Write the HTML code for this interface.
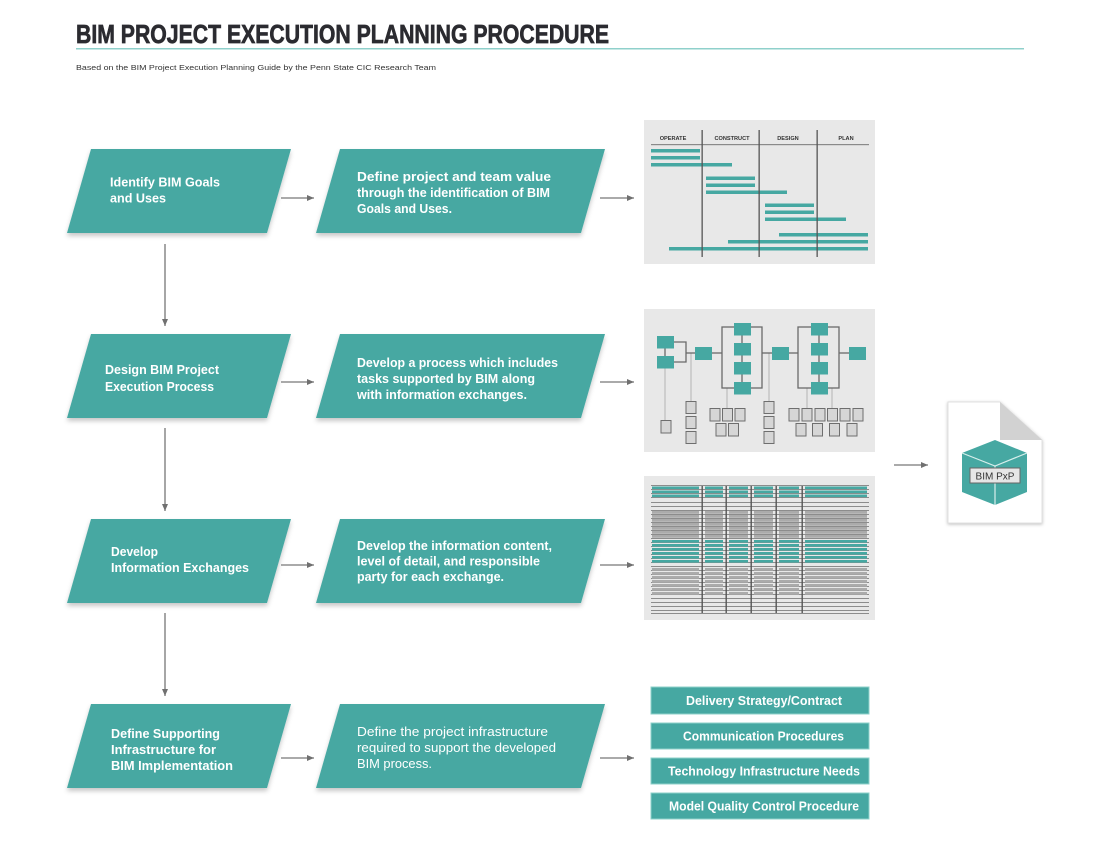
<!DOCTYPE html>
<html><head><meta charset="utf-8"><style>
html,body{margin:0;padding:0;background:#fff;}
svg{display:block;}
text{font-family:"Liberation Sans",Arial,sans-serif;}
</style></head><body>
<svg width="1116" height="857" viewBox="0 0 1116 857" xmlns="http://www.w3.org/2000/svg">
<defs>
<filter id="sh" x="-10%" y="-10%" width="120%" height="140%">
<feDropShadow dx="0" dy="3" stdDeviation="2.5" flood-color="#000" flood-opacity="0.22"/>
</filter>
<filter id="sh2" x="-20%" y="-20%" width="140%" height="140%">
<feDropShadow dx="0" dy="1" stdDeviation="1.5" flood-color="#000" flood-opacity="0.25"/>
</filter>
<marker id="ah" markerWidth="8" markerHeight="8" refX="7" refY="4" orient="auto" markerUnits="userSpaceOnUse">
<path d="M0,1 L7,4 L0,7 Z" fill="#707070"/>
</marker>
</defs>
<rect width="1116" height="857" fill="#fff"/>

<!-- Header -->
<text x="76" y="43" font-size="26" font-weight="bold" fill="#2b2b30" stroke="#2b2b30" stroke-width="0.7" textLength="533" lengthAdjust="spacingAndGlyphs">BIM PROJECT EXECUTION PLANNING PROCEDURE</text>
<rect x="76" y="48" width="948" height="1.5" fill="#8fd0cb"/>
<text x="76" y="70" font-size="7.5" fill="#333" textLength="360" lengthAdjust="spacingAndGlyphs">Based on the BIM Project Execution Planning Guide by the Penn State CIC Research Team</text>

<!-- Parallelograms -->
<g fill="#46a8a2" filter="url(#sh)">
<polygon points="91,149 291,149 267,233 67,233"/>
<polygon points="340,149 605,149 581,233 316,233"/>
<polygon points="91,334 291,334 267,418 67,418"/>
<polygon points="340,334 605,334 581,418 316,418"/>
<polygon points="91,519 291,519 267,603 67,603"/>
<polygon points="340,519 605,519 581,603 316,603"/>
<polygon points="91,704 291,704 267,788 67,788"/>
<polygon points="340,704 605,704 581,788 316,788"/>
</g>

<g fill="#fff" font-size="13" font-weight="bold">
<text x="110" y="186.5" textLength="110" lengthAdjust="spacingAndGlyphs">Identify BIM Goals</text>
<text x="110" y="202.5" textLength="56" lengthAdjust="spacingAndGlyphs">and Uses</text>
<text x="357" y="181" textLength="194" lengthAdjust="spacingAndGlyphs">Define project and team value</text>
<text x="357" y="197" textLength="193" lengthAdjust="spacingAndGlyphs">through the identification of BIM</text>
<text x="357" y="213" textLength="95" lengthAdjust="spacingAndGlyphs">Goals and Uses.</text>

<text x="105" y="374" textLength="114" lengthAdjust="spacingAndGlyphs">Design BIM Project</text>
<text x="105" y="391" textLength="109" lengthAdjust="spacingAndGlyphs">Execution Process</text>
<text x="357" y="367" textLength="201" lengthAdjust="spacingAndGlyphs">Develop a process which includes</text>
<text x="357" y="383" textLength="178" lengthAdjust="spacingAndGlyphs">tasks supported by BIM along</text>
<text x="357" y="399" textLength="170" lengthAdjust="spacingAndGlyphs">with information exchanges.</text>

<text x="111" y="556" textLength="47" lengthAdjust="spacingAndGlyphs">Develop</text>
<text x="111" y="572" textLength="138" lengthAdjust="spacingAndGlyphs">Information Exchanges</text>
<text x="357" y="550" textLength="195" lengthAdjust="spacingAndGlyphs">Develop the information content,</text>
<text x="357" y="565.5" textLength="183" lengthAdjust="spacingAndGlyphs">level of detail, and responsible</text>
<text x="357" y="581" textLength="147" lengthAdjust="spacingAndGlyphs">party for each exchange.</text>

<text x="111" y="738" textLength="109" lengthAdjust="spacingAndGlyphs">Define Supporting</text>
<text x="111" y="754" textLength="105" lengthAdjust="spacingAndGlyphs">Infrastructure for</text>
<text x="111" y="770" textLength="122" lengthAdjust="spacingAndGlyphs">BIM Implementation</text>
</g>
<g fill="#fff" font-size="13">
<text x="357" y="736" textLength="191" lengthAdjust="spacingAndGlyphs">Define the project infrastructure</text>
<text x="357" y="752" textLength="199" lengthAdjust="spacingAndGlyphs">required to support the developed</text>
<text x="357" y="768" textLength="75" lengthAdjust="spacingAndGlyphs">BIM process.</text>
</g>

<!-- Arrows -->
<g stroke="#777" stroke-width="1.3" fill="none" marker-end="url(#ah)">
<line x1="281" y1="198" x2="314" y2="198"/>
<line x1="600" y1="198" x2="634" y2="198"/>
<line x1="281" y1="382" x2="314" y2="382"/>
<line x1="600" y1="382" x2="634" y2="382"/>
<line x1="281" y1="565" x2="314" y2="565"/>
<line x1="600" y1="565" x2="634" y2="565"/>
<line x1="281" y1="758" x2="314" y2="758"/>
<line x1="600" y1="758" x2="634" y2="758"/>
<line x1="894" y1="465" x2="928" y2="465"/>
<line x1="165" y1="244" x2="165" y2="326"/>
<line x1="165" y1="428" x2="165" y2="511"/>
<line x1="165" y1="613" x2="165" y2="696"/>
</g>

<!-- Gantt panel -->
<rect x="644" y="120" width="231" height="144" fill="#e8e8e8"/>
<g font-size="5.6" font-weight="bold" fill="#333" text-anchor="middle">
<text x="673" y="140">OPERATE</text>
<text x="732" y="140">CONSTRUCT</text>
<text x="788" y="140">DESIGN</text>
<text x="846" y="140">PLAN</text>
</g>
<rect x="651" y="144" width="218" height="1.2" fill="#8a8a8a"/>
<g fill="#46a8a2">
<rect x="651" y="149" width="49" height="3.5"/>
<rect x="651" y="156" width="49" height="3.5"/>
<rect x="651" y="163" width="81" height="3.5"/>
<rect x="706" y="176.5" width="49" height="3.5"/>
<rect x="706" y="183.5" width="49" height="3.5"/>
<rect x="706" y="190.5" width="81" height="3.5"/>
<rect x="765" y="203.5" width="49" height="3.5"/>
<rect x="765" y="210.5" width="49" height="3.5"/>
<rect x="765" y="217.5" width="81" height="3.5"/>
<rect x="779" y="233" width="89" height="3.5"/>
<rect x="728" y="240" width="140" height="3.5"/>
<rect x="669" y="247" width="199" height="3.5"/>
</g>
<g fill="#555">
<rect x="701.5" y="130" width="1.3" height="127"/>
<rect x="758.5" y="130" width="1.3" height="127"/>
<rect x="816.5" y="130" width="1.3" height="127"/>
</g>

<!-- Process panel -->
<rect x="644" y="309" width="231" height="143" fill="#e8e8e8"/>
<g stroke="#bdbdbd" stroke-width="1.2" fill="none">
<line x1="665" y1="368" x2="665" y2="420"/>
<line x1="691" y1="353" x2="691" y2="401"/>
<line x1="727" y1="388" x2="727" y2="408"/>
<line x1="769" y1="353" x2="769" y2="401"/>
<line x1="807" y1="388" x2="807" y2="408"/>
<line x1="832" y1="388" x2="832" y2="408"/>
</g>
<g stroke="#6a6a6a" stroke-width="1.3" fill="none">
<line x1="665" y1="348" x2="665" y2="356"/>
<polyline points="674,342 686,342 686,362 674,362"/>
<line x1="686" y1="353" x2="695" y2="353"/>
<line x1="712" y1="353" x2="722" y2="353"/>
<rect x="722" y="327" width="40" height="61"/>
<line x1="742" y1="330" x2="742" y2="388"/>
<line x1="762" y1="353" x2="772" y2="353"/>
<line x1="789" y1="353" x2="798" y2="353"/>
<rect x="798" y="327" width="41" height="61"/>
<line x1="819" y1="330" x2="819" y2="388"/>
<line x1="839" y1="353" x2="849" y2="353"/>
</g>
<g fill="#46a8a2">
<rect x="657" y="336" width="17" height="12.5"/>
<rect x="657" y="356" width="17" height="12.5"/>
<rect x="695" y="347" width="17" height="13"/>
<rect x="734" y="323" width="17" height="12.5"/>
<rect x="734" y="343" width="17" height="12.5"/>
<rect x="734" y="362" width="17" height="12.5"/>
<rect x="734" y="382" width="17" height="12.5"/>
<rect x="772" y="347" width="17" height="13"/>
<rect x="811" y="323" width="17" height="12.5"/>
<rect x="811" y="343" width="17" height="12.5"/>
<rect x="811" y="362" width="17" height="12.5"/>
<rect x="811" y="382" width="17" height="12.5"/>
<rect x="849" y="347" width="17" height="13"/>
</g>
<g fill="#d6d6d6" stroke="#6e6e6e" stroke-width="1">
<rect x="661" y="420.5" width="10" height="12.5"/>
<rect x="686" y="401.5" width="10" height="12"/>
<rect x="686" y="416.5" width="10" height="12"/>
<rect x="686" y="431.5" width="10" height="12"/>
<rect x="710" y="408.5" width="10" height="12.5"/>
<rect x="722.5" y="408.5" width="10" height="12.5"/>
<rect x="735" y="408.5" width="10" height="12.5"/>
<rect x="716" y="423.5" width="10" height="12.5"/>
<rect x="728.5" y="423.5" width="10" height="12.5"/>
<rect x="764" y="401.5" width="10" height="12"/>
<rect x="764" y="416.5" width="10" height="12"/>
<rect x="764" y="431.5" width="10" height="12"/>
<rect x="789" y="408.5" width="10" height="12.5"/>
<rect x="802" y="408.5" width="10" height="12.5"/>
<rect x="815" y="408.5" width="10" height="12.5"/>
<rect x="827.5" y="408.5" width="10" height="12.5"/>
<rect x="840" y="408.5" width="10" height="12.5"/>
<rect x="853" y="408.5" width="10" height="12.5"/>
<rect x="796" y="423.5" width="10" height="12.5"/>
<rect x="812.5" y="423.5" width="10" height="12.5"/>
<rect x="829.5" y="423.5" width="10" height="12.5"/>
<rect x="847" y="423.5" width="10" height="12.5"/>
</g>

<!-- Table panel -->
<rect x="644" y="476" width="231" height="144" fill="#e8e8e8"/>
<g stroke="#6e6e6e" stroke-width="0.8">
<line x1="651" y1="485.5" x2="869" y2="485.5"/><line x1="651" y1="489.5" x2="869" y2="489.5"/>
<line x1="651" y1="493.5" x2="869" y2="493.5"/><line x1="651" y1="497.5" x2="869" y2="497.5"/>
<line x1="651" y1="502.5" x2="869" y2="502.5"/><line x1="651" y1="506.5" x2="869" y2="506.5"/>
<line x1="651" y1="510.5" x2="869" y2="510.5"/><line x1="651" y1="514.5" x2="869" y2="514.5"/>
<line x1="651" y1="518.5" x2="869" y2="518.5"/><line x1="651" y1="522.5" x2="869" y2="522.5"/>
<line x1="651" y1="526.5" x2="869" y2="526.5"/><line x1="651" y1="530.5" x2="869" y2="530.5"/>
<line x1="651" y1="534.5" x2="869" y2="534.5"/><line x1="651" y1="538.5" x2="869" y2="538.5"/>
<line x1="651" y1="542.5" x2="869" y2="542.5"/><line x1="651" y1="546.5" x2="869" y2="546.5"/>
<line x1="651" y1="550.5" x2="869" y2="550.5"/><line x1="651" y1="554.5" x2="869" y2="554.5"/>
<line x1="651" y1="558.5" x2="869" y2="558.5"/><line x1="651" y1="562.5" x2="869" y2="562.5"/>
<line x1="651" y1="566.5" x2="869" y2="566.5"/><line x1="651" y1="570.5" x2="869" y2="570.5"/>
<line x1="651" y1="574.5" x2="869" y2="574.5"/><line x1="651" y1="578.5" x2="869" y2="578.5"/>
<line x1="651" y1="582.5" x2="869" y2="582.5"/><line x1="651" y1="586.5" x2="869" y2="586.5"/>
<line x1="651" y1="590.5" x2="869" y2="590.5"/><line x1="651" y1="594.5" x2="869" y2="594.5"/>
<line x1="651" y1="598.5" x2="869" y2="598.5"/><line x1="651" y1="602.5" x2="869" y2="602.5"/>
<line x1="651" y1="606.5" x2="869" y2="606.5"/><line x1="651" y1="610.5" x2="869" y2="610.5"/>
<line x1="651" y1="613.5" x2="869" y2="613.5"/>
</g>
<g fill="#46a8a2">
<g id="trow">
<rect x="652" y="486.5" width="47" height="2.6"/><rect x="705" y="486.5" width="18" height="2.6"/>
<rect x="729" y="486.5" width="19" height="2.6"/><rect x="754" y="486.5" width="19" height="2.6"/>
<rect x="779" y="486.5" width="20" height="2.6"/><rect x="805" y="486.5" width="62" height="2.6"/>
</g>
<use href="#trow" y="4"/><use href="#trow" y="8"/>
<use href="#trow" y="53.5"/><use href="#trow" y="57.5"/><use href="#trow" y="61.5"/>
<use href="#trow" y="65.5"/><use href="#trow" y="69.5"/><use href="#trow" y="73.5"/>
</g>
<g fill="#ababab">
<g id="grow">
<rect x="652" y="511" width="47" height="2.8"/><rect x="705" y="511" width="18" height="2.8"/>
<rect x="729" y="511" width="19" height="2.8"/><rect x="754" y="511" width="19" height="2.8"/>
<rect x="779" y="511" width="20" height="2.8"/><rect x="805" y="511" width="62" height="2.8"/>
</g>
<use href="#grow" y="4"/><use href="#grow" y="8"/><use href="#grow" y="12"/>
<use href="#grow" y="16"/><use href="#grow" y="20"/><use href="#grow" y="24"/>
<use href="#grow" y="57"/><use href="#grow" y="61"/><use href="#grow" y="65"/>
<use href="#grow" y="69"/><use href="#grow" y="73"/><use href="#grow" y="77"/>
<use href="#grow" y="81"/>
</g>
<g fill="#555">
<rect x="701.5" y="486" width="1.4" height="127"/>
<rect x="725.5" y="486" width="1.4" height="127"/>
<rect x="750.5" y="486" width="1.4" height="127"/>
<rect x="775.5" y="486" width="1.4" height="127"/>
<rect x="801.5" y="486" width="1.4" height="127"/>
</g>

<!-- Bottom list boxes -->
<g fill="#46a8a2" stroke="#8dd0ca" stroke-width="1">
<rect x="651" y="687" width="218" height="27"/>
<rect x="651" y="723" width="218" height="26"/>
<rect x="651" y="758" width="218" height="26"/>
<rect x="651" y="793" width="218" height="26"/>
</g>
<g fill="#fff" font-size="12.5" font-weight="bold">
<text x="686" y="705" textLength="156" lengthAdjust="spacingAndGlyphs">Delivery Strategy/Contract</text>
<text x="683" y="740.5" textLength="161" lengthAdjust="spacingAndGlyphs">Communication Procedures</text>
<text x="668" y="775.5" textLength="192" lengthAdjust="spacingAndGlyphs">Technology Infrastructure Needs</text>
<text x="669" y="810.5" textLength="190" lengthAdjust="spacingAndGlyphs">Model Quality Control Procedure</text>
</g>

<!-- BIM PxP document -->
<path d="M948,402 H1000 L1042,440 V523 H948 Z" fill="#fff" stroke="#e0e0e0" stroke-width="1" filter="url(#sh2)"/>
<polygon points="1000,402 1000,440 1042,440" fill="#d2d2d2"/>
<polygon points="995,440 1027,453 1027,492 995,505 962,492 962,453" fill="#46a8a2"/>
<g stroke="#d8efec" stroke-width="1.2" fill="none">
<polyline points="962,453 995,466 1027,453"/>
<line x1="995" y1="466" x2="995" y2="505"/>
</g>
<rect x="970" y="468" width="50" height="15" fill="#e6e6e6" stroke="#666" stroke-width="1"/>
<text x="995" y="479.5" font-size="10" fill="#333" text-anchor="middle">BIM PxP</text>
</svg>
</body></html>
